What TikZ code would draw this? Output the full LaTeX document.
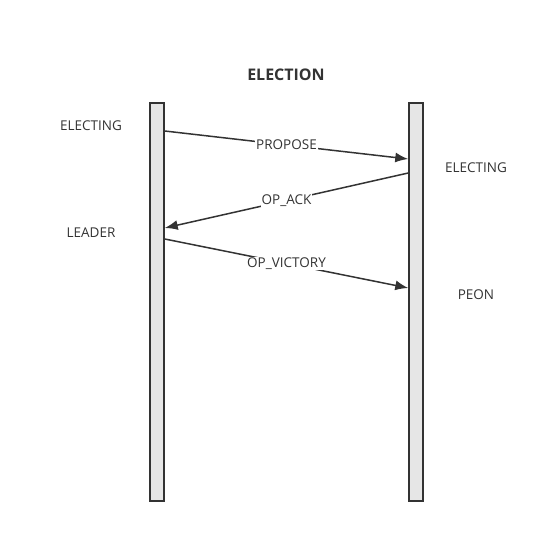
\documentclass[tikz,border=0pt]{standalone}
\usepackage{fontspec}
\setmainfont{Open Sans}
\usetikzlibrary{positioning}
\usetikzlibrary{arrows.meta}
\usetikzlibrary{calc}
\definecolor{ink}{HTML}{333333}
\definecolor{barfill}{HTML}{E6E6E6}
\tikzset{
  lifebar/.style={draw=ink, fill=barfill, line width=1.5pt, minimum width=14pt, minimum height=398pt, inner sep=0pt},
  msg/.style={draw=ink, line width=1.5pt, -{Latex[length=13pt,width=10pt]}},
  msglabel/.style={fill=white, inner sep=1pt, text=ink, font=\fontsize{13.5}{16}\selectfont},
  statelabel/.style={text=ink, font=\fontsize{13.5}{16}\selectfont}
}
\begin{document}
\begin{tikzpicture}[x=1pt, y=-1pt]
		\useasboundingbox (0,0) rectangle (553,534);
		% Define the lifelines
		\node[lifebar] (leftbar) at (157,302) {};
		\node[lifebar] (rightbar) at (416,302) {};
		\node[text=ink, font=\fontsize{16}{19}\selectfont\bfseries] (title) at (286,75) {ELECTION};

		% Define the end points of the messages
		\coordinate (a) at (leftbar.east |- 0,131);
		\coordinate (b) at (rightbar.west |- 0,159);
		\coordinate (c) at (rightbar.west |- 0,173);
		\coordinate (d) at (leftbar.east |- 0,228);
		\coordinate (e) at (leftbar.east |- 0,239);
		\coordinate (f) at (rightbar.west |- 0,288);

		% Draw the messages
		\draw[msg] (a) -- node[msglabel] (propose) {PROPOSE} (b);
		\draw[msg] (c) -- node[msglabel] (opack) {OP\_ACK} (d);
		\draw[msg] (e) -- node[msglabel] (opvictory) {OP\_VICTORY} (f);

		% States
		\foreach \name/\x/\y/\text in {s1/91/126/ELECTING, s2/476/168/ELECTING, s3/91/233/LEADER, s4/476/295/PEON}
		\node[statelabel] (\name) at (\x,\y) {\text};
      \end{tikzpicture}
\end{document}
